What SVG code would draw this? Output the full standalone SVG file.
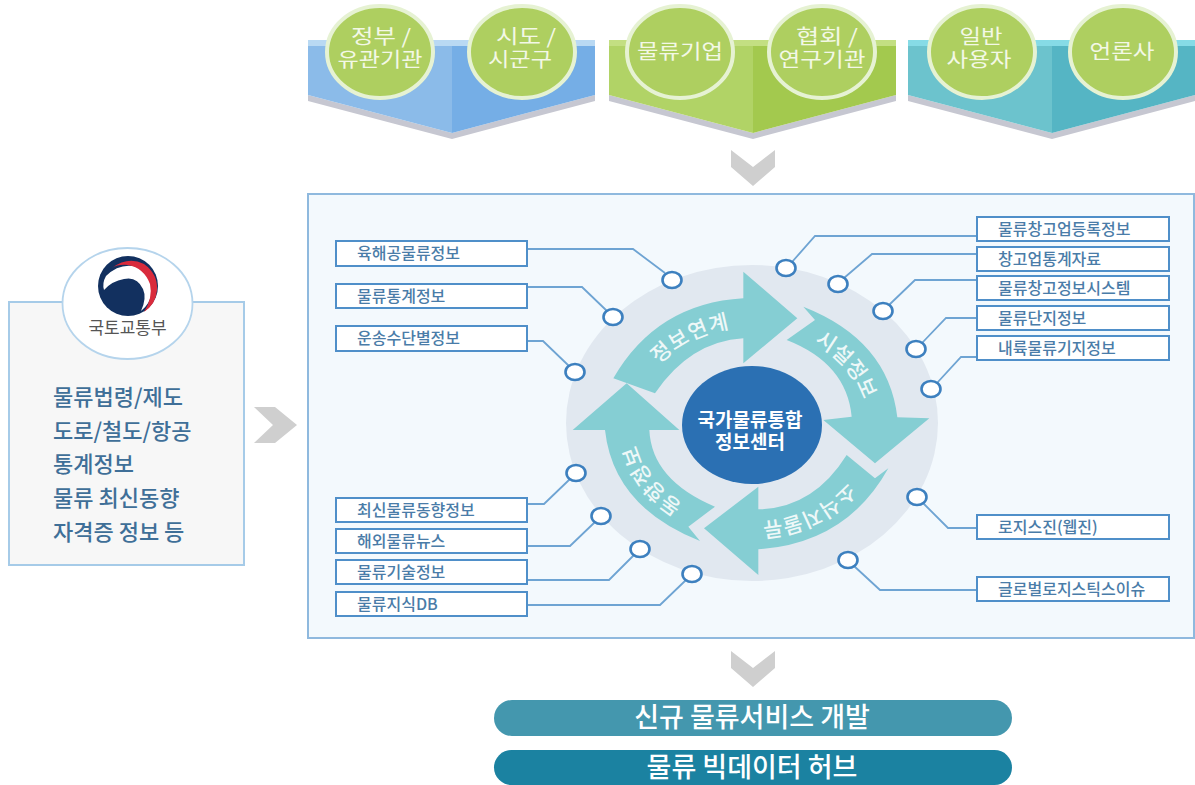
<svg xmlns="http://www.w3.org/2000/svg" width="1195" height="785" viewBox="0 0 1195 785">
<style>
text{font-family:"Noto Sans CJK KR","Noto Sans",sans-serif}
.ring{fill:#aecf60;stroke:#e6f2d3;stroke-width:4}
.rt{fill:#f3f8e6;font-size:20px;text-anchor:middle}
.shadow{fill:#c6c7d1}
.chev{fill:#cfcfcf}
.lab{fill:#fff;stroke:#4f8fc9;stroke-width:2}
.lt{fill:#4a7ca8;font-size:16px;font-weight:500}
.dot{fill:#fff;stroke:#3d80bf;stroke-width:2.6}
.wire{fill:none;stroke:#6ea4d3;stroke-width:1.8}
.arrow{fill:#85ced3}
.at{fill:#eef8f8;font-size:21px;font-weight:500;text-anchor:middle}
.list{fill:#3f6f98;font-size:22px;font-weight:500}
.pt{fill:#fff;font-size:27px;font-weight:500;text-anchor:middle}
</style>
<defs>
<path id="a1" d="M636.6 404.6A118 98 0 0 1 776.5 329.1"/>
<path id="a2" d="M772 328.8A118 98 0 0 1 865 443.7"/>
<path id="a3" d="M866.5 448.7A118 98 0 0 1 723.5 520.1"/>
<path id="a4" d="M723.5 520.1A118 98 0 0 1 637.5 401.3"/>
</defs>
<rect width="1195" height="785" fill="#fff"/>

<g id="band-blue">
<path class="shadow" d="M308 95L452 133L595 95V101L452 139L308 101Z"/>
<path fill="#8bbbe9" d="M308 40H452V133L308 95Z"/>
<path fill="#75aee6" d="M452 40H595V95L452 133Z"/>
<rect x="308" y="40" width="287" height="6" fill="#b9d9f3"/>
</g>
<g id="band-green">
<path class="shadow" d="M609 95L753 133L896 95V101L753 139L609 101Z"/>
<path fill="#b1d366" d="M609 40H753V133L609 95Z"/>
<path fill="#a3c94e" d="M753 40H896V95L753 133Z"/>
<rect x="609" y="40" width="287" height="6" fill="#c3df82"/>
</g>
<g id="band-teal">
<path class="shadow" d="M908 95L1052 133L1195 95V101L1052 139L908 101Z"/>
<path fill="#6cc3cd" d="M908 40H1052V133L908 95Z"/>
<path fill="#55b5c4" d="M1052 40H1195V95L1052 133Z"/>
<rect x="908" y="40" width="287" height="6" fill="#86dbe6"/>
</g>

<g id="n-gov"><ellipse class="ring" cx="380" cy="52" rx="53" ry="46"/><text class="rt" x="381" y="44" textLength="60" lengthAdjust="spacingAndGlyphs">정부 /</text><text class="rt" x="380" y="67" textLength="85" lengthAdjust="spacingAndGlyphs">유관기관</text></g>
<g id="n-city"><ellipse class="ring" cx="522" cy="52" rx="53" ry="46"/><text class="rt" x="526" y="44" textLength="60" lengthAdjust="spacingAndGlyphs">시도 /</text><text class="rt" x="520" y="67" textLength="64" lengthAdjust="spacingAndGlyphs">시군구</text></g>
<g id="n-firm"><ellipse class="ring" cx="680" cy="52" rx="53" ry="46"/><text class="rt" x="680" y="59" textLength="86" lengthAdjust="spacingAndGlyphs">물류기업</text></g>
<g id="n-assoc"><ellipse class="ring" cx="822" cy="52" rx="53" ry="46"/><text class="rt" x="827" y="44" textLength="62" lengthAdjust="spacingAndGlyphs">협회 /</text><text class="rt" x="822" y="67" textLength="87" lengthAdjust="spacingAndGlyphs">연구기관</text></g>
<g id="n-user"><ellipse class="ring" cx="982" cy="52" rx="53" ry="46"/><text class="rt" x="981" y="44" textLength="43" lengthAdjust="spacingAndGlyphs">일반</text><text class="rt" x="979" y="67" textLength="65" lengthAdjust="spacingAndGlyphs">사용자</text></g>
<g id="n-press"><ellipse class="ring" cx="1123" cy="52" rx="53" ry="46"/><text class="rt" x="1122" y="59" textLength="65" lengthAdjust="spacingAndGlyphs">언론사</text></g>

<path id="chev-top" class="chev" d="M731 150L753 167L775 150V167L753 186L731 167Z"/>
<path id="chev-left" class="chev" d="M254 407H275L297 425L275 443H254L273 425Z"/>
<path id="chev-bottom" class="chev" d="M731 651L753 668L775 651V668L753 687L731 668Z"/>

<g id="n-ministry">
<rect x="9" y="302" width="235" height="263" fill="#f7f7f7" stroke="#a6cbe8" stroke-width="2"/>
<ellipse cx="127.500" cy="303.500" rx="65" ry="55.500" fill="#fff" stroke="#b5d4ec" stroke-width="1.800"/>
<circle cx="128" cy="286" r="30" fill="#12305f"/>
<path fill="#fff" d="M106 276Q120 262 138 267Q154 274 152 292Q150 304 141 311Q147 298 143 289Q137 276 124 279Q112 281 104 290Q102 283 106 276Z"/>
<path fill="#d92b3c" d="M112 268Q128 256 144 264Q158 274 157 290Q156 304 144 312Q153 298 150 284Q144 268 128 265Q118 264 112 268Z"/>
<text x="127.500" y="334" font-size="17" fill="#555" text-anchor="middle">국토교통부</text>
<text class="list" x="53" y="405">물류법령/제도</text>
<text class="list" x="53" y="439">도로/철도/항공</text>
<text class="list" x="53" y="472">통계정보</text>
<text class="list" x="53" y="506">물류 최신동향</text>
<text class="list" x="53" y="540">자격증 정보 등</text>
</g>

<rect id="panel" x="308" y="194" width="886" height="444" fill="#f3f9fd" stroke="#8fb9de" stroke-width="2"/>

<g id="n-cycle">
<ellipse cx="752" cy="423" rx="186" ry="158" fill="#e1e8f0"/>
<g transform="translate(560 260) scale(.33333)">
<path class="arrow" d="M160 355Q290 130 550 115L550 35L712 175L550 310L550 235Q390 245 285 400Z"/>
<path class="arrow" d="M730 140Q985 240 1012 472L1108 475L945 610L790 480L875 470Q860 310 680 240L765 180Z"/>
<path class="arrow" d="M985 625Q860 850 595 868L595 945L432 805L595 680L595 748Q760 745 860 585L945 655Z"/>
<path class="arrow" d="M420 843Q160 740 135 510L38 510L200 370L358 510L268 510Q275 660 465 740L385 800Z"/>
</g>
<text class="at" letter-spacing="1"><textPath href="#a1" startOffset="50%">정보연계</textPath></text>
<text class="at"><textPath href="#a2" startOffset="50%">시설정보</textPath></text>
<text class="at"><textPath href="#a3" startOffset="50%">소식지물류</textPath></text>
<text class="at"><textPath href="#a4" startOffset="50%">동향정보</textPath></text>
</g>
<g id="n-center">
<ellipse cx="752" cy="425" rx="70" ry="59" fill="#2b70b3"/>
<text x="750" y="427" font-size="19" font-weight="700" fill="#fff" text-anchor="middle">국가물류통합</text>
<text x="750" y="449" font-size="19" font-weight="700" fill="#fff" text-anchor="middle">정보센터</text>
</g>

<g id="connectors">
<path class="wire" d="M527 249H633L665 273"/>
<path class="wire" d="M527 287H582L607 311"/>
<path class="wire" d="M527 341H543L569 366"/>
<path class="wire" d="M527 504H544L570 479"/>
<path class="wire" d="M527 546H570L595 522"/>
<path class="wire" d="M527 580H609L634 555"/>
<path class="wire" d="M527 605H660L686 580"/>
<path class="wire" d="M977 236H815L792 262"/>
<path class="wire" d="M977 254H872L844 278"/>
<path class="wire" d="M977 280H915L889 305"/>
<path class="wire" d="M977 318H946L922 343"/>
<path class="wire" d="M977 357H961L937 383"/>
<path class="wire" d="M977 528H948L923 503"/>
<path class="wire" d="M977 590H880L854 566"/>
</g>

<g id="n-l1"><rect class="lab" x="336" y="241" width="191" height="25"/><text class="lt" x="357" y="259">육해공물류정보</text><ellipse class="dot" cx="672" cy="280" rx="9.500" ry="8"/></g>
<g id="n-l2"><rect class="lab" x="336" y="284" width="191" height="24"/><text class="lt" x="357" y="302">물류통계정보</text><ellipse class="dot" cx="613" cy="317" rx="9.500" ry="8"/></g>
<g id="n-l3"><rect class="lab" x="336" y="326" width="191" height="25"/><text class="lt" x="357" y="344">운송수단별정보</text><ellipse class="dot" cx="575" cy="372" rx="9.500" ry="8"/></g>
<g id="n-l4"><rect class="lab" x="336" y="498" width="191" height="24"/><text class="lt" x="357" y="516">최신물류동향정보</text><ellipse class="dot" cx="576" cy="473" rx="9.500" ry="8"/></g>
<g id="n-l5"><rect class="lab" x="336" y="529" width="191" height="24"/><text class="lt" x="357" y="547">해외물류뉴스</text><ellipse class="dot" cx="601" cy="516" rx="9.500" ry="8"/></g>
<g id="n-l6"><rect class="lab" x="336" y="560" width="191" height="24"/><text class="lt" x="357" y="578">물류기술정보</text><ellipse class="dot" cx="640" cy="549" rx="9.500" ry="8"/></g>
<g id="n-l7"><rect class="lab" x="336" y="592" width="191" height="24"/><text class="lt" x="357" y="610">물류지식DB</text><ellipse class="dot" cx="692" cy="574" rx="9.500" ry="8"/></g>

<g id="n-r1"><rect class="lab" x="977" y="217" width="192" height="24"/><text class="lt" x="998" y="235">물류창고업등록정보</text><ellipse class="dot" cx="786" cy="268" rx="9.500" ry="8"/></g>
<g id="n-r2"><rect class="lab" x="977" y="247" width="192" height="24"/><text class="lt" x="998" y="265">창고업통계자료</text><ellipse class="dot" cx="838" cy="284" rx="9.500" ry="8"/></g>
<g id="n-r3"><rect class="lab" x="977" y="276" width="192" height="24"/><text class="lt" x="998" y="294">물류창고정보시스템</text><ellipse class="dot" cx="883" cy="311" rx="9.500" ry="8"/></g>
<g id="n-r4"><rect class="lab" x="977" y="306" width="192" height="24"/><text class="lt" x="998" y="324">물류단지정보</text><ellipse class="dot" cx="916" cy="349" rx="9.500" ry="8"/></g>
<g id="n-r5"><rect class="lab" x="977" y="336" width="192" height="24"/><text class="lt" x="998" y="354">내륙물류기지정보</text><ellipse class="dot" cx="931" cy="389" rx="9.500" ry="8"/></g>
<g id="n-r6"><rect class="lab" x="977" y="515" width="192" height="24"/><text class="lt" x="998" y="533">로지스진(웹진)</text><ellipse class="dot" cx="917" cy="497" rx="9.500" ry="8"/></g>
<g id="n-r7"><rect class="lab" x="977" y="577" width="192" height="24"/><text class="lt" x="998" y="595">글로벌로지스틱스이슈</text><ellipse class="dot" cx="848" cy="560" rx="9.500" ry="8"/></g>

<g id="n-service"><rect x="494" y="700" width="518" height="36" rx="18" fill="#4497ae"/><text class="pt" x="752" y="727">신규 물류서비스 개발</text></g>
<g id="n-hub"><rect x="494" y="750" width="518" height="35" rx="17.500" fill="#1b82a1"/><text class="pt" x="752" y="777">물류 빅데이터 허브</text></g>
</svg>
